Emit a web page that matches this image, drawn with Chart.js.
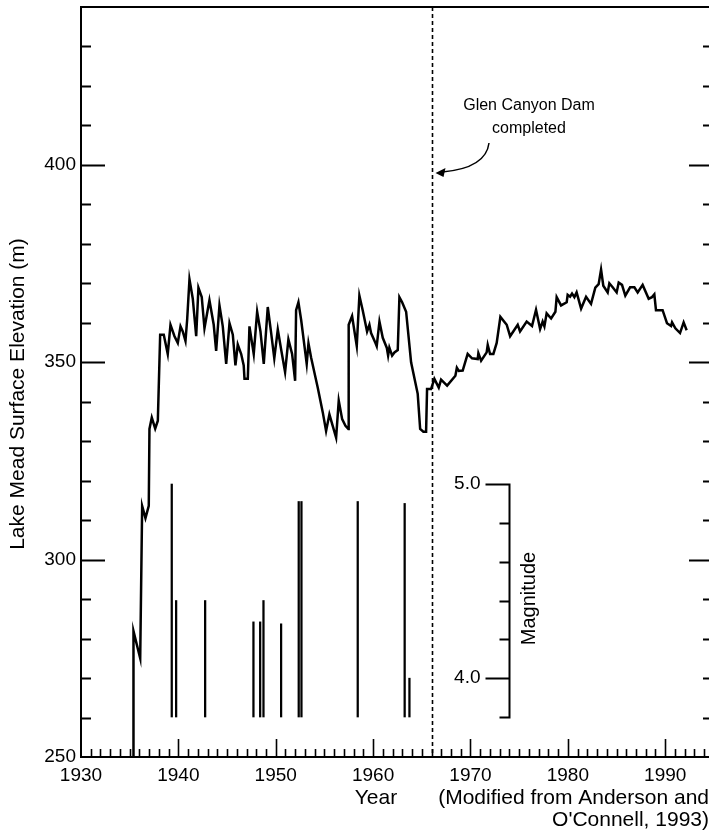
<!DOCTYPE html>
<html>
<head>
<meta charset="utf-8">
<script src="https://cdn.jsdelivr.net/npm/chart.js@4.4.1/dist/chart.umd.min.js"></script>
<style>
  html, body { margin: 0; padding: 0; background: #fff; overflow: hidden; }
  #wrap { width: 720px; height: 835px; }
</style>
</head>
<body>
<div id="wrap"><canvas id="lakeChart" width="720" height="835"></canvas></div>
<script>
// Lake Mead surface elevation (m)
const lakeYear = [
  1935.39, 1935.39, 1936.08, 1936.28, 1936.62, 1936.96, 1937.03, 1937.27, 1937.62, 1937.89,
  1938.13, 1938.50, 1938.91, 1939.19, 1939.60, 1939.94, 1940.22, 1940.45, 1940.73, 1940.90,
  1941.14, 1941.48, 1941.83, 1942.06, 1942.40, 1942.68, 1943.19, 1943.63, 1943.88, 1944.22,
  1944.56, 1944.91, 1945.25, 1945.59, 1945.86, 1946.10, 1946.45, 1946.71, 1946.79, 1947.13,
  1947.30, 1947.74, 1948.09, 1948.43, 1948.77, 1949.18, 1949.53, 1949.85, 1950.21, 1950.55,
  1950.96, 1951.30, 1951.68, 1951.99, 1952.09, 1952.33, 1952.61, 1952.95, 1953.18, 1953.36,
  1953.63, 1954.31, 1954.83, 1955.17, 1955.51, 1955.85, 1956.20, 1956.47, 1956.82, 1957.16,
  1957.46, 1957.49, 1957.84, 1958.11, 1958.32, 1958.59, 1958.93, 1959.38, 1959.62, 1959.79,
  1960.24, 1960.37, 1960.65, 1960.99, 1961.40, 1961.54, 1961.67, 1961.95, 1962.19, 1962.53,
  1962.70, 1962.98, 1963.39, 1963.90, 1964.58, 1964.83, 1965.16, 1965.44, 1965.54, 1965.95,
  1966.29, 1966.74, 1966.98, 1967.60, 1968.45, 1968.60, 1968.80, 1969.20, 1969.71, 1970.16,
  1970.74, 1970.81, 1971.09, 1971.66, 1971.77, 1972.01, 1972.35, 1972.69, 1973.07, 1973.72,
  1974.07, 1974.85, 1975.09, 1975.77, 1976.32, 1976.73, 1977.15, 1977.41, 1977.59, 1977.82,
  1978.28, 1978.72, 1978.85, 1979.30, 1979.88, 1979.98, 1980.23, 1980.43, 1980.67, 1980.90,
  1981.36, 1981.87, 1982.38, 1982.82, 1983.16, 1983.41, 1983.64, 1984.09, 1984.26, 1984.60,
  1985.01, 1985.22, 1985.56, 1985.90, 1986.39, 1986.83, 1987.17, 1987.68, 1988.30, 1988.64,
  1988.88, 1989.05, 1989.73, 1990.18, 1990.60, 1990.70, 1991.04, 1991.52, 1991.89, 1992.20
];
const lakeElev = [
  250.0, 281.9, 275.0, 313.6, 310.5, 313.6, 333.1, 336.0, 333.2, 335.2,
  357.0, 357.0, 352.1, 359.5, 356.6, 354.9, 359.1, 357.8, 355.4, 360.7,
  371.0, 366.1, 356.6, 368.9, 366.5, 358.6, 365.7, 359.5, 352.9, 364.4,
  359.1, 349.6, 359.9, 357.0, 349.2, 354.5, 352.1, 349.2, 345.8, 345.8,
  359.1, 352.1, 362.8, 357.8, 349.6, 364.0, 357.4, 351.0, 358.3, 353.3,
  347.5, 355.8, 352.1, 345.3, 363.2, 365.2, 360.7, 354.1, 349.6, 354.8,
  351.2, 343.6, 337.3, 332.6, 336.8, 333.9, 330.9, 340.3, 335.6, 333.9,
  333.1, 359.5, 361.7, 357.4, 354.1, 366.9, 363.2, 357.8, 359.5, 357.4,
  354.9, 354.1, 360.3, 356.2, 353.7, 351.7, 353.7, 351.7, 352.5, 353.1,
  366.5, 365.2, 362.8, 350.0, 342.0, 333.1, 332.4, 332.4, 343.2, 343.2,
  345.8, 343.6, 345.6, 344.1, 346.6, 348.6, 347.8, 347.9, 352.1, 351.0,
  350.8, 352.3, 350.4, 352.5, 354.4, 352.1, 352.1, 354.9, 361.5, 359.5,
  356.6, 359.5, 357.8, 360.3, 359.2, 363.3, 358.4, 360.3, 359.1, 362.4,
  361.1, 362.8, 366.5, 364.4, 365.2, 367.1, 366.6, 367.4, 366.5, 367.7,
  363.6, 366.6, 364.8, 368.9, 369.8, 373.5, 369.4, 367.7, 370.0, 369.0,
  367.7, 370.2, 369.6, 366.9, 369.0, 369.0, 367.7, 369.6, 366.1, 366.5,
  367.2, 363.2, 363.2, 359.9, 359.2, 360.1, 358.6, 357.4, 360.1, 358.1
];

// earthquakes
const quakeYear = [1939.32, 1939.77, 1942.75, 1947.71, 1948.40, 1948.74, 1950.55, 1952.36, 1952.64, 1958.42, 1963.24, 1963.73];
const quakeMag  = [5.0, 4.4, 4.4, 4.29, 4.29, 4.4, 4.28, 4.91, 4.91, 4.91, 4.9, 4.0];
const magBase = 3.8;
const magTicks = [3.8, 4.0, 4.2, 4.4, 4.6, 4.8, 5.0];
const magLabels = ['4.0', '5.0'];

const elevTicks = [250, 300, 350, 400];
const yearTicks = [1930, 1940, 1950, 1960, 1970, 1980, 1990];
const damYear = 1966;
const magAxisYear = 1974;

const FONT = '"Liberation Sans", Arial, Helvetica, sans-serif';
Chart.defaults.font.family = FONT;
Chart.defaults.font.size = 19;
Chart.defaults.color = '#000';

const decor = {
  id: 'decor',
  afterDraw(chart) {
    const ctx = chart.ctx;
    const a = chart.chartArea;
    const x = chart.scales.x, y = chart.scales.y, m = chart.scales.mag;
    ctx.save();
    ctx.strokeStyle = '#000';
    ctx.fillStyle = '#000';
    ctx.lineCap = 'butt';

    // frame
    ctx.lineWidth = 2;
    ctx.strokeRect(a.left, a.top, a.right - a.left, a.bottom - a.top);

    // elevation ticks, both sides, pointing inwards
    for (let v = 260; v < 440; v += 10) {
      const py = Math.round(y.getPixelForValue(v)) + 0.5;
      const major = v % 50 === 0;
      ctx.lineWidth = 2;
      ctx.beginPath();
      ctx.moveTo(a.left, py); ctx.lineTo(a.left + (major ? 24 : 10), py);
      ctx.moveTo(a.right, py); ctx.lineTo(a.right - (major ? 22 : 8), py);
      ctx.stroke();
    }
    // year ticks
    for (let yr = 1931; yr < 1995; yr++) {
      const px = Math.round(x.getPixelForValue(yr)) + 0.5;
      ctx.lineWidth = 1.6;
      ctx.beginPath();
      ctx.moveTo(px, a.bottom); ctx.lineTo(px, a.bottom - (yr % 10 === 0 ? 18 : 8));
      ctx.stroke();
    }

    // dam completion line
    const dx = Math.round(x.getPixelForValue(damYear)) + 0.5;
    ctx.lineWidth = 1.6;
    ctx.setLineDash([4, 3]);
    ctx.beginPath();
    ctx.moveTo(dx, a.top); ctx.lineTo(dx, a.bottom);
    ctx.stroke();
    ctx.setLineDash([]);

    // annotation
    ctx.font = '16px ' + FONT;
    ctx.textAlign = 'center';
    ctx.textBaseline = 'middle';
    ctx.fillText('Glen Canyon Dam', 529, 106);
    ctx.fillText('completed', 529, 129);
    ctx.lineWidth = 1.5;
    ctx.beginPath();
    ctx.moveTo(489, 143);
    ctx.quadraticCurveTo(486, 168, dx + 10, 172);
    ctx.stroke();
    ctx.beginPath();
    ctx.moveTo(dx + 3, 173);
    ctx.lineTo(dx + 13, 168);
    ctx.lineTo(dx + 11, 177);
    ctx.closePath();
    ctx.fill();

    // magnitude axis
    const mx = Math.round(x.getPixelForValue(magAxisYear)) + 0.5;
    ctx.lineWidth = 2;
    ctx.beginPath();
    ctx.moveTo(mx, m.getPixelForValue(magTicks[0]));
    ctx.lineTo(mx, m.getPixelForValue(magTicks[magTicks.length - 1]));
    magTicks.forEach(t => {
      const py = Math.round(m.getPixelForValue(t)) + 0.5;
      const major = Math.abs(t - Math.round(t)) < 1e-6;
      ctx.moveTo(mx + 1, py); ctx.lineTo(mx - (major ? 24 : 10), py);
    });
    ctx.stroke();
    ctx.font = '19px ' + FONT;
    ctx.textAlign = 'right';
    magLabels.forEach(l => ctx.fillText(l, mx - 29, m.getPixelForValue(parseFloat(l))));
    ctx.save();
    ctx.translate(mx + 20, m.getPixelForValue(4.4) - 2);
    ctx.rotate(-Math.PI / 2);
    ctx.textAlign = 'center';
    ctx.font = '20px ' + FONT;
    ctx.fillText('Magnitude', 0, 0);
    ctx.restore();

    // axis titles and credit
    ctx.save();
    ctx.translate(18, 394);
    ctx.rotate(-Math.PI / 2);
    ctx.textAlign = 'center';
    ctx.font = '21px ' + FONT;
    ctx.fillText('Lake Mead Surface Elevation (m)', 0, 0);
    ctx.restore();

    ctx.font = '21px ' + FONT;
    ctx.textAlign = 'center';
    ctx.fillText('Year', 376, 798);
    ctx.textAlign = 'right';
    ctx.fillText('(Modified from Anderson and', 709, 798);
    ctx.fillText("O'Connell, 1993)", 709, 820);
    ctx.restore();
  }
};

function noPad(s) {
  s.paddingTop = 0; s.paddingBottom = 0; s.paddingLeft = 0; s.paddingRight = 0;
}

new Chart(document.getElementById('lakeChart'), {
  type: 'line',
  data: {
    datasets: [
      {
        label: 'Lake elevation',
        data: lakeYear.map((yr, i) => ({ x: yr, y: lakeElev[i] })),
        borderColor: '#000',
        borderWidth: 2.5,
        pointRadius: 0,
        tension: 0,
        yAxisID: 'y'
      },
      {
        type: 'bar',
        label: 'Earthquakes',
        data: quakeYear.map((yr, i) => ({ x: yr, y: [magBase, quakeMag[i]] })),
        backgroundColor: '#000',
        borderWidth: 0,
        barThickness: 1.6,
        yAxisID: 'mag'
      }
    ]
  },
  options: {
    responsive: false,
    animation: false,
    devicePixelRatio: 1,
    layout: { padding: { top: 7, right: 9, left: 0, bottom: 0 } },
    plugins: { legend: { display: false }, tooltip: { enabled: false } },
    scales: {
      x: {
        type: 'linear',
        min: 1930,
        max: 1994.7,
        offset: false,
        grid: { display: false, drawTicks: false },
        border: { display: false },
        afterBuildTicks: s => { s.ticks = yearTicks.map(v => ({ value: v })); },
        ticks: { padding: 7, maxRotation: 0, autoSkip: false, callback: v => String(v) },
        afterFit: s => { s.height = 78; noPad(s); }
      },
      y: {
        type: 'linear',
        min: 250,
        max: 440,
        grid: { display: false, drawTicks: false },
        border: { display: false },
        afterBuildTicks: s => { s.ticks = elevTicks.map(v => ({ value: v })); },
        ticks: { padding: 5, callback: v => String(v) },
        afterFit: s => { s.width = 81; noPad(s); }
      },
      mag: {
        type: 'linear',
        display: false,
        min: 3.594,
        max: 7.457
      }
    }
  },
  plugins: [decor]
});
</script>
</body>
</html>
